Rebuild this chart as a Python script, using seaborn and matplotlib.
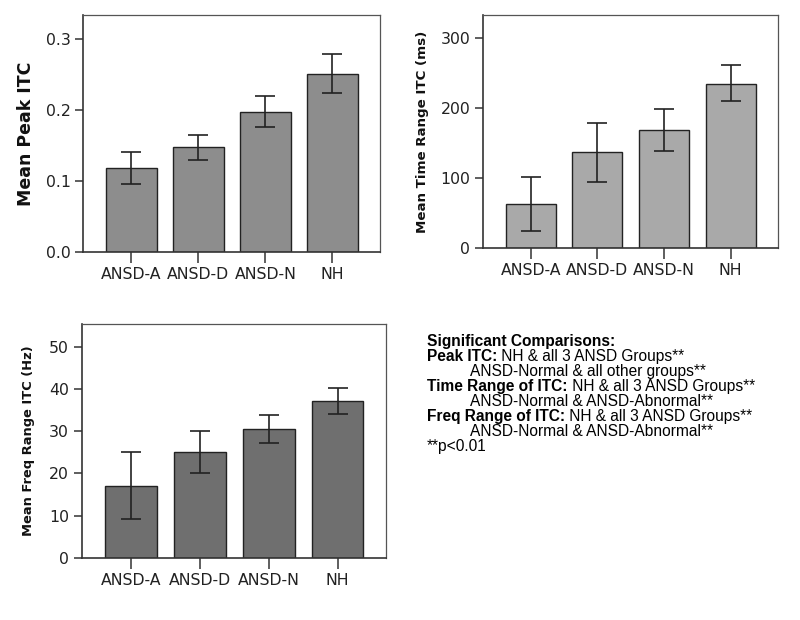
import matplotlib
matplotlib.use("Agg")
import matplotlib.pyplot as plt
import seaborn as sns
import pandas as pd

groups = ["ANSD-A", "ANSD-D", "ANSD-N", "NH"]

peak_itc = [0.119, 0.148, 0.198, 0.251]
peak_lo = [0.096, 0.130, 0.176, 0.224]
peak_hi = [0.141, 0.165, 0.220, 0.279]

time_range = [63, 137, 169, 235]
time_lo = [25, 95, 139, 210]
time_hi = [101, 178, 198, 261]

freq_range = [17.1, 25.2, 30.6, 37.3]
freq_lo = [9.2, 20.2, 27.2, 34.2]
freq_hi = [25.0, 30.0, 33.9, 40.4]

sns.set_theme(style="white")
plt.rcParams["font.family"] = ["DejaVu Sans"]

fig = plt.figure(figsize=(8, 6.2), dpi=100)

panels = [
    dict(rect=[0.104, 0.5935, 0.371, 0.3823], vals=peak_itc, lo=peak_lo, hi=peak_hi,
         color="#8d8d8d", ylim=(0, 0.334), yticks=[0, 0.1, 0.2, 0.3],
         yticklabels=["0.0", "0.1", "0.2", "0.3"], ylabel="Mean Peak ITC", lsize=12.5, lpad=8),
    dict(rect=[0.6034, 0.6, 0.369, 0.3758], vals=time_range, lo=time_lo, hi=time_hi,
         color="#a9a9a9", ylim=(0, 333), yticks=[0, 100, 200, 300],
         yticklabels=["0", "100", "200", "300"], ylabel="Mean Time Range ITC (ms)", lsize=9.6, lpad=8),
    dict(rect=[0.102, 0.1005, 0.381, 0.377], vals=freq_range, lo=freq_lo, hi=freq_hi,
         color="#6f6f6f", ylim=(0, 55.5), yticks=[0, 10, 20, 30, 40, 50],
         yticklabels=["0", "10", "20", "30", "40", "50"], ylabel="Mean Freq Range ITC (Hz)", lsize=9.4, lpad=10),
]

for p in panels:
    ax = fig.add_axes(p["rect"])
    df = pd.DataFrame({"group": groups, "value": p["vals"]})
    sns.barplot(data=df, x="group", y="value", ax=ax, color=p["color"], saturation=1,
                edgecolor="#222222", linewidth=1.0, width=0.75, errorbar=None)
    xs = list(range(len(groups)))
    yerr = [[v - l for v, l in zip(p["vals"], p["lo"])], [h - v for v, h in zip(p["vals"], p["hi"])]]
    ax.errorbar(xs, p["vals"], yerr=yerr, fmt="none", ecolor="#222222", elinewidth=1.2,
                capsize=7, capthick=1.2)
    ax.set_xlim(-0.72, 3.71)
    ax.set_ylim(*p["ylim"])
    ax.set_yticks(p["yticks"])
    ax.set_yticklabels(p["yticklabels"])
    ax.set_xlabel("")
    ax.set_ylabel(p["ylabel"], fontsize=p["lsize"], fontweight="bold", color="#111111", labelpad=p["lpad"])
    ax.tick_params(axis="x", direction="out", length=8, width=1.1, color="#333333",
                   labelsize=11.3, labelcolor="#222222", bottom=True, pad=3)
    ax.tick_params(axis="y", direction="out", length=6, width=1.1, color="#333333",
                   labelsize=11.3, labelcolor="#222222", left=True, pad=3)
    for side in ["left", "bottom"]:
        ax.spines[side].set_color("#333333")
        ax.spines[side].set_linewidth(1.2)
    for side in ["top", "right"]:
        ax.spines[side].set_color("#555555")
        ax.spines[side].set_linewidth(0.9)
    ax.spines["bottom"].set_zorder(5)

# Text block with mixed bold/regular lines
fig.canvas.draw()
renderer = fig.canvas.get_renderer()
tfam = ["Liberation Sans", "DejaVu Sans"]
tsize = 11.2
W, H = 800, 620
x0 = 427
x_ind = 470
base0 = 346
step = 15
lines = [
    (x0, "Significant Comparisons:", ""),
    (x0, "Peak ITC:", " NH & all 3 ANSD Groups**"),
    (x_ind, "", "ANSD-Normal & all other groups**"),
    (x0, "Time Range of ITC:", " NH & all 3 ANSD Groups**"),
    (x_ind, "", "ANSD-Normal & ANSD-Abnormal**"),
    (x0, "Freq Range of ITC:", " NH & all 3 ANSD Groups**"),
    (x_ind, "", "ANSD-Normal & ANSD-Abnormal**"),
    (x0, "", "**p<0.01"),
]
for i, (xp, bold, reg) in enumerate(lines):
    yb = 1 - (base0 + i * step) / H
    xf = xp / W
    if bold:
        t = fig.text(xf, yb, bold, fontsize=tsize, fontweight="bold", family=tfam,
                     va="baseline", ha="left", color="#000000")
        bb = t.get_window_extent(renderer=renderer)
        xf = bb.x1 / (fig.dpi * fig.get_figwidth())
    if reg:
        fig.text(xf, yb, reg, fontsize=tsize, family=tfam, va="baseline", ha="left", color="#000000")

fig.savefig("out.png", dpi=100)
